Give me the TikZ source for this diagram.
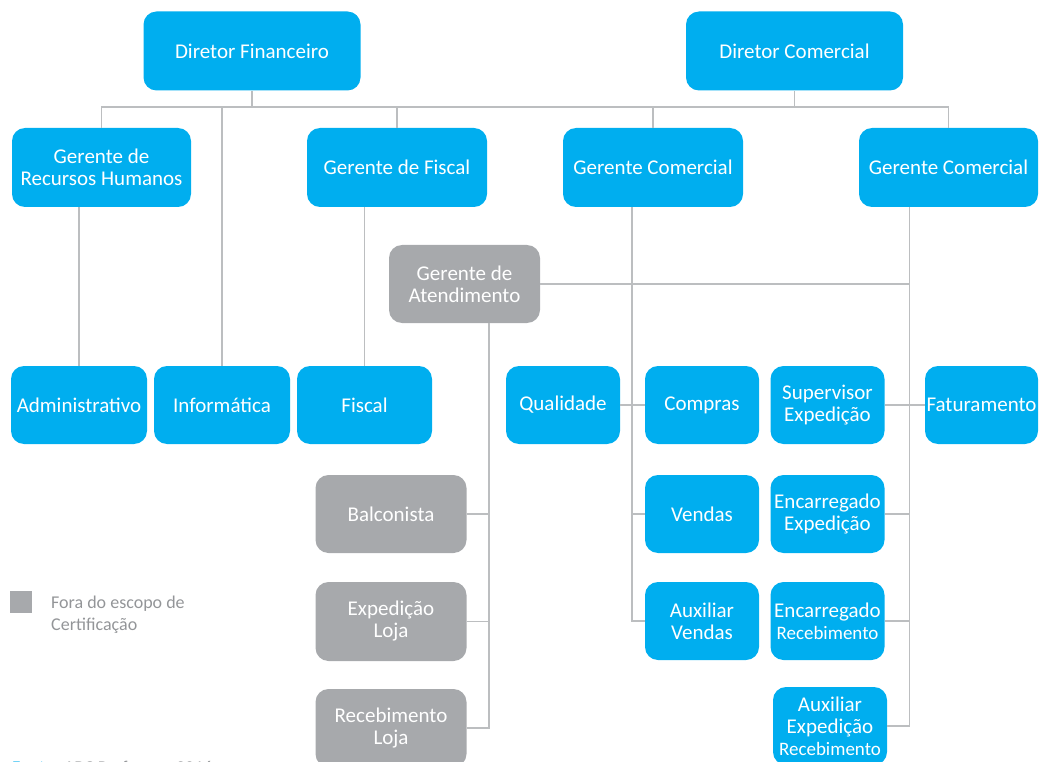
\documentclass[tikz,border=0pt]{standalone}
\usepackage{fontspec}
\setmainfont{Carlito}
\definecolor{cblue}{HTML}{00AEEF}
\definecolor{cgrey}{HTML}{A7A9AC}
\definecolor{lgrey}{HTML}{BCBEC0}
\definecolor{tgrey}{HTML}{939598}
\tikzset{
  orgbox/.style={rounded corners=13pt, fill=cblue, text=white, align=center, inner sep=0pt,
    font=\fontsize{21}{22}\selectfont},
  greybox/.style={orgbox, fill=cgrey},
  conn/.style={draw=lgrey, line width=1.4pt},
}
\newcommand{\smallrec}{\fontsize{19}{20}\selectfont}
\begin{document}
\begin{tikzpicture}[x=1pt,y=-1pt]
\useasboundingbox (0,0) rectangle (1039,762);
% top
\node[orgbox, minimum width=217pt, minimum height=79pt] (df) at (252,51) {Diretor Financeiro};
\node[orgbox, minimum width=217pt, minimum height=79pt] (dc) at (794.5,51) {Diretor Comercial};
% managers
\node[orgbox, minimum width=179pt, minimum height=79pt] (rh) at (101.5,167.5) {Gerente de\\Recursos Humanos};
\node[orgbox, minimum width=180pt, minimum height=79pt] (gf) at (397,167.5) {Gerente de Fiscal};
\node[orgbox, minimum width=180pt, minimum height=79pt] (gc1) at (653,167.5) {Gerente Comercial};
\node[orgbox, minimum width=179pt, minimum height=79pt] (gc2) at (948.5,167.5) {Gerente Comercial};
\node[greybox, minimum width=151pt, minimum height=78pt] (ga) at (464.5,284) {Gerente de\\Atendimento};
% row 3
\node[orgbox, minimum width=136pt, minimum height=78pt] (adm) at (79,405) {Administrativo};
\node[orgbox, minimum width=136pt, minimum height=78pt] (inf) at (222,405) {Informática};
\node[orgbox, minimum width=135pt, minimum height=78pt] (fis) at (364.5,405) {Fiscal};
\node[orgbox, minimum width=114pt, minimum height=78pt] (qual) at (563,405) {Qualidade};
\node[orgbox, minimum width=114pt, minimum height=78pt] (comp) at (702,405) {Compras};
\node[orgbox, minimum width=114pt, minimum height=78pt] (sup) at (827.5,405) {Supervisor\\Expedição};
\node[orgbox, minimum width=113pt, minimum height=78pt] (fat) at (981.5,405) {Faturamento};
% row 4
\node[greybox, minimum width=151pt, minimum height=78pt] (balc) at (391,514) {Balconista};
\node[orgbox, minimum width=114pt, minimum height=78pt] (vend) at (702,514) {Vendas};
\node[orgbox, minimum width=114pt, minimum height=78pt] (encexp) at (827.5,514) {Encarregado\\Expedição};
% row 5
\node[greybox, minimum width=151pt, minimum height=79pt] (expl) at (391,621.5) {Expedição\\Loja};
\node[orgbox, minimum width=114pt, minimum height=78pt] (auxv) at (702,621) {Auxiliar\\Vendas};
\node[orgbox, minimum width=114pt, minimum height=78pt] (encrec) at (827.5,621) {Encarregado\\{\smallrec Recebimento}};
% row 6
\node[greybox, minimum width=151pt, minimum height=78pt] (recl) at (391,728) {Recebimento\\Loja};
\node[orgbox, minimum width=114pt, minimum height=78pt] (auxexp) at (830,726) {Auxiliar\\Expedição\\{\smallrec Recebimento}};
% bus
\coordinate (bus) at (0,107);
\draw[conn] (rh.north) -- (rh.north |- bus) -- (gc2.north |- bus) -- (gc2.north);
\draw[conn] (df.south) -- (df.south |- bus);
\draw[conn] (dc.south) -- (dc.south |- bus);
\draw[conn] (gf.north) -- (gf.north |- bus);
\draw[conn] (gc1.north) -- (gc1.north |- bus);
\draw[conn] (inf.north) -- (inf.north |- bus);
\draw[conn] (adm.north) -- (adm.north |- rh.south);
\draw[conn] (fis.north) -- (fis.north |- gf.south);
% commercial 1
\coordinate (v1) at (632,621);
\draw[conn] (v1 |- gc1.south) -- (v1) -- (auxv.west);
\draw[conn] (qual.east) -- (comp.west);
\draw[conn] (v1 |- vend.west) -- (vend.west);
% commercial 2
\coordinate (v2) at (909.5,726);
\draw[conn] (v2 |- gc2.south) -- (v2) -- (auxexp.east);
\draw[conn] (sup.east) -- (fat.west);
\draw[conn] (encexp.east) -- (v2 |- encexp.east);
\draw[conn] (encrec.east) -- (v2 |- encrec.east);
\draw[conn] (ga.east) -- (v2 |- ga.east);
% atendimento
\coordinate (v3) at (489,728);
\draw[conn] (v3 |- ga.south) -- (v3) -- (recl.east);
\draw[conn] (balc.east) -- (v3 |- balc.east);
\draw[conn] (expl.east) -- (v3 |- expl.east);
% legend
\node[fill=cgrey, minimum size=22pt, inner sep=0pt] (leg) at (21,602) {};
\node[anchor=north west, align=left, text=tgrey, inner sep=0pt, font=\fontsize{18}{22}\selectfont] (legt) at (51,596) {Fora do escopo de\\Certificação};
\node[anchor=base west, inner sep=0pt, text=tgrey, font=\fontsize{18}{22}\selectfont] (fonte) at (12,773) {\textcolor{cblue}{Fonte:} ABC Perfumes, 2016};
\end{tikzpicture}
\end{document}
